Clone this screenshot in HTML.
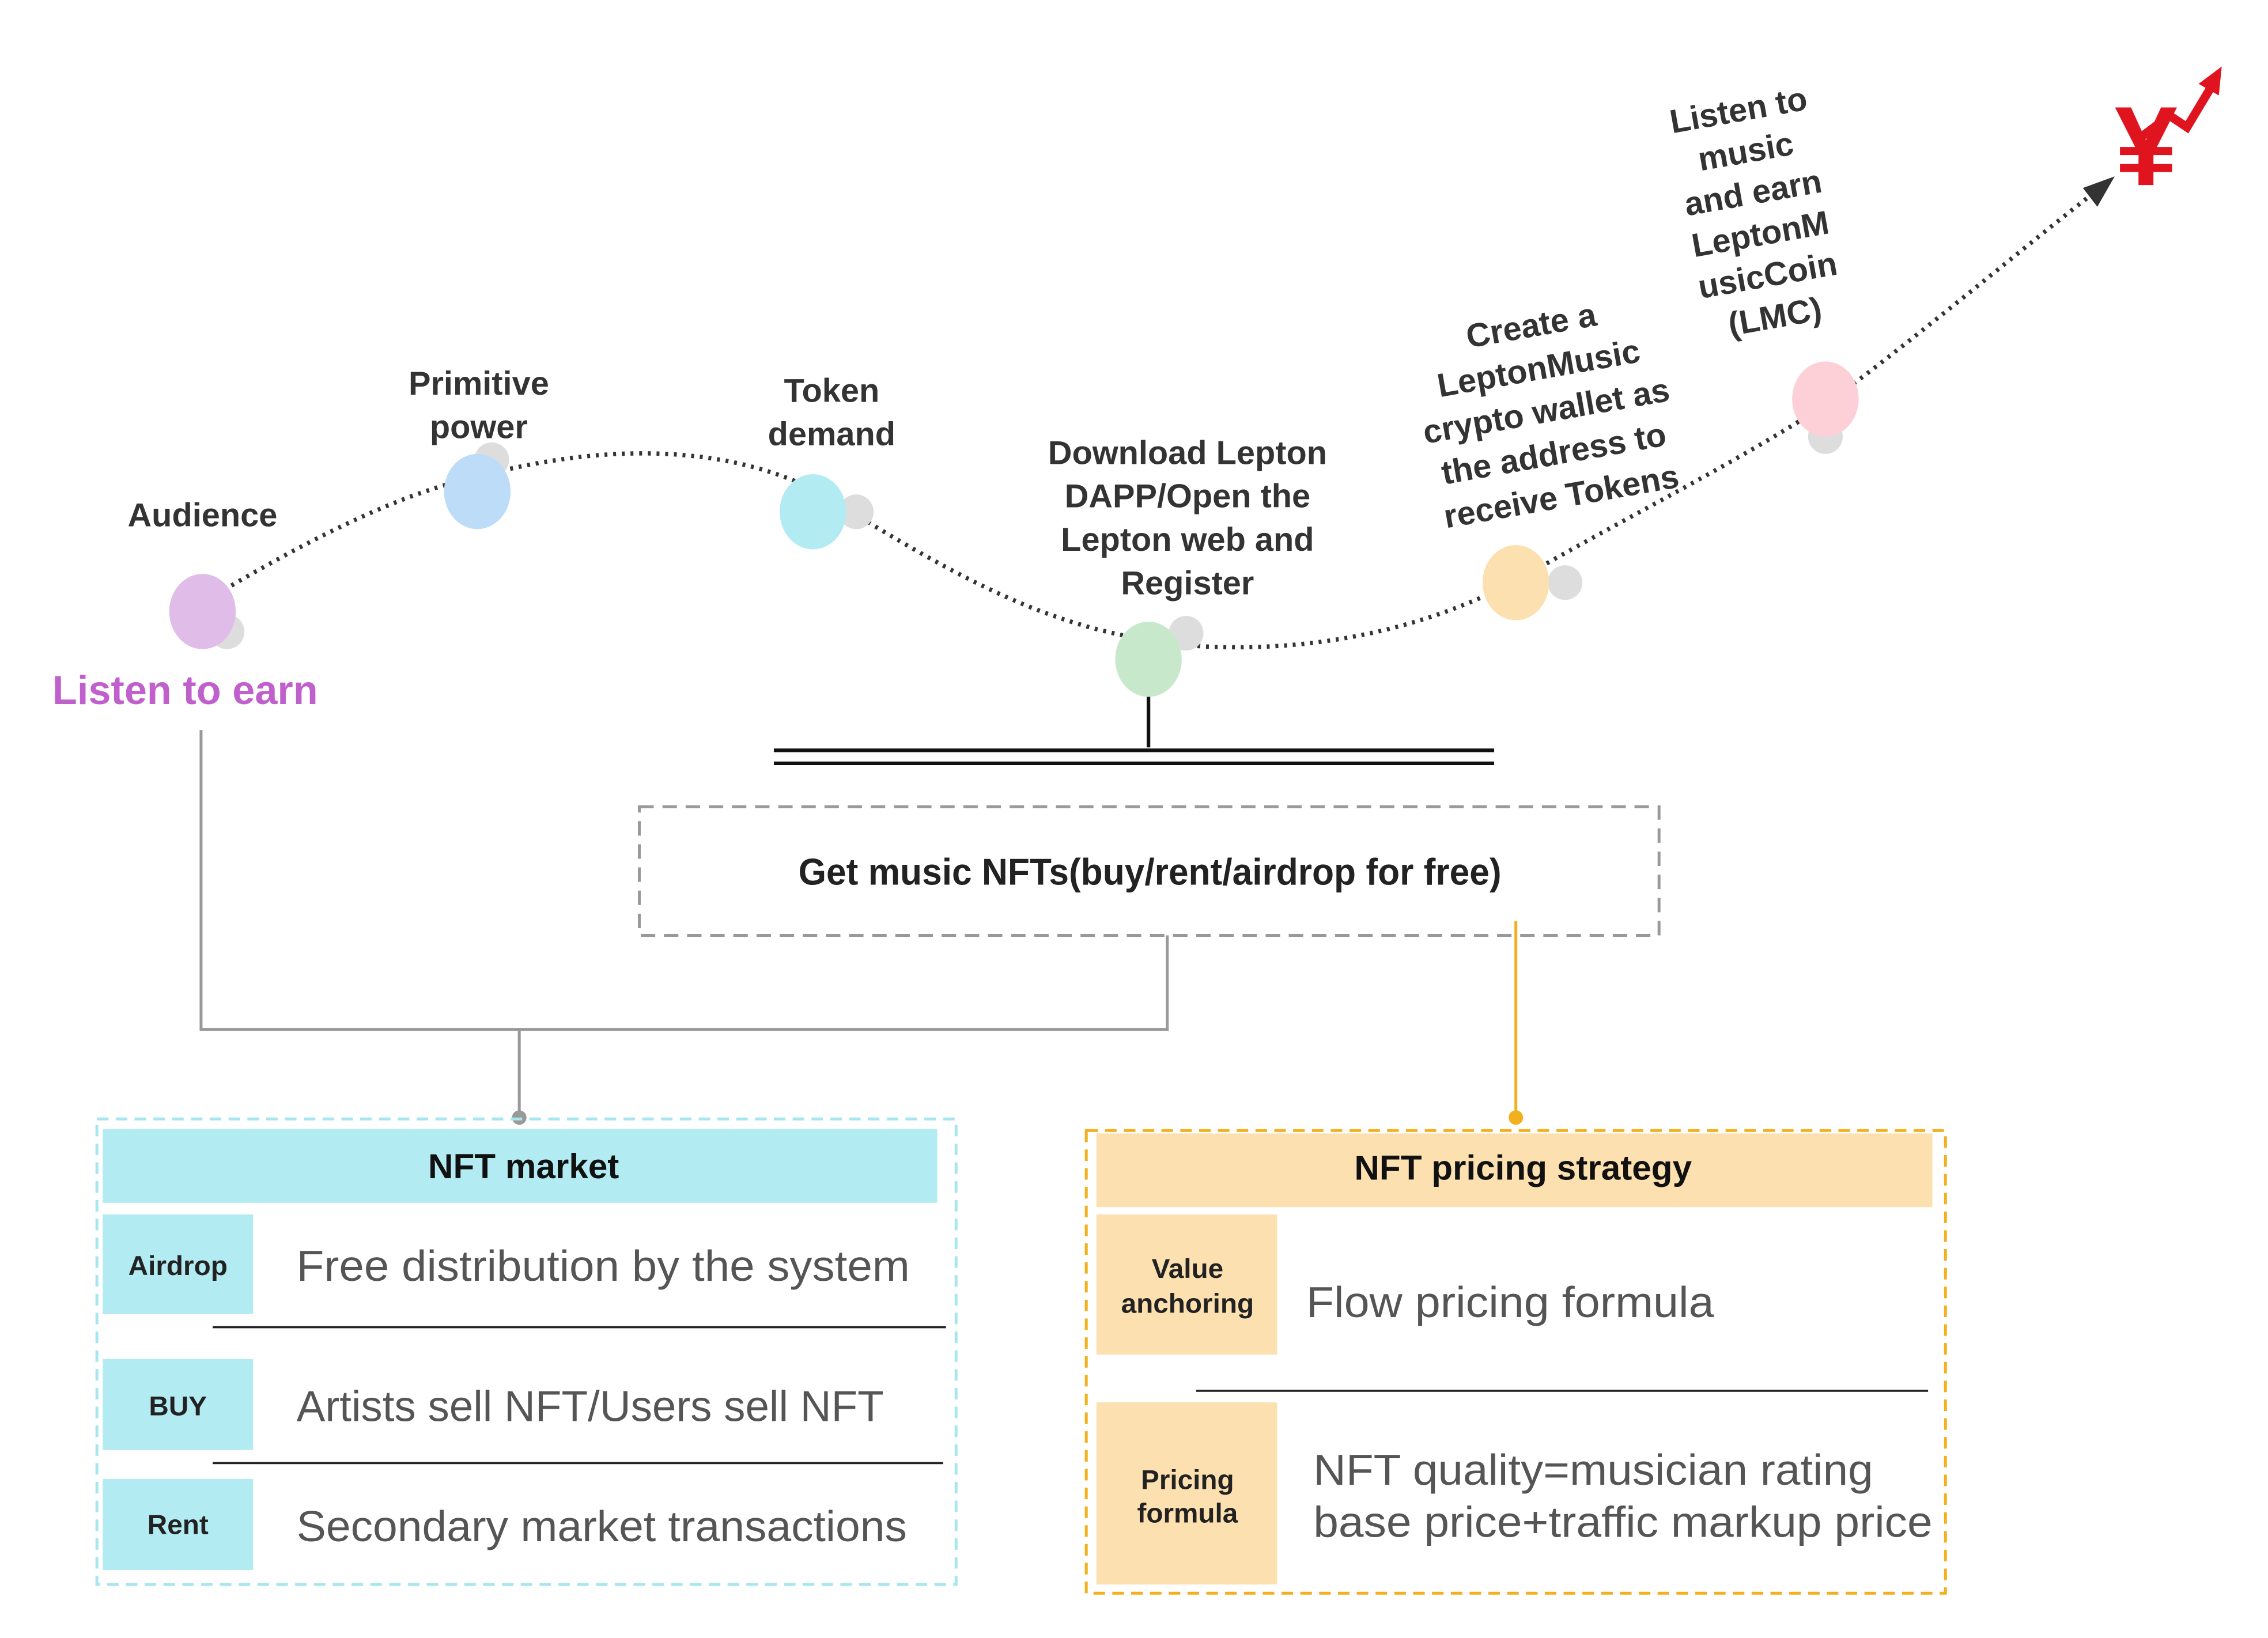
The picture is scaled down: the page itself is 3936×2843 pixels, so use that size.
<!DOCTYPE html>
<html><head><meta charset="utf-8"><style>
html,body{margin:0;padding:0;background:#fff;}
svg{display:block}
text{font-family:"Liberation Sans","DejaVu Sans",sans-serif}
</style></head><body>
<svg width="3936" height="2843" viewBox="0 0 1568 1133" preserveAspectRatio="none" xmlns="http://www.w3.org/2000/svg">
<rect width="1568" height="1133" fill="#fff"/>
<path d="M160,405 C220,370 280,340 330,330 C420,305 520,305 590,355 C680,410 740,440 830,447 C920,452 1000,430 1060,395 C1130,355 1200,320 1262,280 C1330,230 1400,170 1452,130" fill="none" stroke="#333" stroke-width="3" stroke-dasharray="2,4"/>
<polygon points="1462,122 1440,130 1450,143" fill="#333"/>
<g fill="#e0141e">
<text x="1462" y="128" font-size="78" font-weight="bold" fill="#e0141e">¥</text>
<polyline points="1480,95 1500,80 1512,88 1530,58" fill="none" stroke="#e0141e" stroke-width="6"/>
<polygon points="1536,46 1520,58 1534,66"/>
</g>
<circle cx="157" cy="437" r="12" fill="#ddd"/><ellipse cx="140" cy="423" rx="23" ry="26" fill="#e0bce8"/>
<circle cx="340" cy="318" r="12" fill="#ddd"/><ellipse cx="330" cy="340" rx="23" ry="26" fill="#bcdcf8"/>
<circle cx="592" cy="354" r="12" fill="#ddd"/><ellipse cx="562" cy="354" rx="23" ry="26" fill="#b2ecf2"/>
<circle cx="820" cy="438" r="12" fill="#ddd"/><ellipse cx="794" cy="456" rx="23" ry="26" fill="#c8e8cc"/>
<circle cx="1082" cy="403" r="12" fill="#ddd"/><ellipse cx="1048" cy="403" rx="23" ry="26" fill="#fde0b0"/>
<circle cx="1262" cy="302" r="12" fill="#ddd"/><ellipse cx="1262" cy="276" rx="23" ry="26" fill="#fdd0d8"/>
<g font-size="23" font-weight="bold" fill="#333" text-anchor="middle">
<text x="140" y="364">Audience</text>
<text x="331" y="273">Primitive</text><text x="331" y="303">power</text>
<text x="575" y="278">Token</text><text x="575" y="308">demand</text>
<text x="821" y="321">Download Lepton</text><text x="821" y="351">DAPP/Open the</text><text x="821" y="381">Lepton web and</text><text x="821" y="411">Register</text>
<g transform="rotate(-10 1070 290)">
<text x="1070" y="232">Create a</text><text x="1070" y="262">LeptonMusic</text><text x="1070" y="292">crypto wallet as</text><text x="1070" y="322">the address to</text><text x="1070" y="352">receive Tokens</text>
</g>
<g transform="rotate(-10 1220 150)">
<text x="1215" y="82">Listen to</text><text x="1215" y="111">music</text><text x="1215" y="140">and earn</text><text x="1215" y="169">LeptonM</text><text x="1215" y="198">usicCoin</text><text x="1215" y="227">(LMC)</text>
</g>
</g>
<text x="128" y="487" font-size="28" font-weight="bold" fill="#c060cc" text-anchor="middle">Listen to earn</text>
<line x1="794" y1="482" x2="794" y2="517" stroke="#111" stroke-width="2.5"/>
<line x1="535" y1="519" x2="1033" y2="519" stroke="#111" stroke-width="2.5"/>
<line x1="535" y1="528" x2="1033" y2="528" stroke="#111" stroke-width="2.5"/>
<rect x="442" y="558" width="705" height="89" fill="none" stroke="#999" stroke-width="2" stroke-dasharray="10,6"/>
<text x="795" y="612" font-size="26" font-weight="bold" fill="#222" text-anchor="middle" textLength="486" lengthAdjust="spacingAndGlyphs">Get music NFTs(buy/rent/airdrop for free)</text>
<polyline points="139,505 139,712 807,712 807,647" fill="none" stroke="#999" stroke-width="2"/>
<line x1="359" y1="712" x2="359" y2="772" stroke="#999" stroke-width="2"/>
<circle cx="359" cy="773" r="5" fill="#999"/>
<line x1="1048" y1="637" x2="1048" y2="772" stroke="#f2b01e" stroke-width="2"/>
<circle cx="1048" cy="773" r="5" fill="#f2b01e"/>
<rect x="67" y="774" width="594" height="322" fill="none" stroke="#a8e6ee" stroke-width="2" stroke-dasharray="8,5"/>
<rect x="71" y="781" width="577" height="51" fill="#b2ebf2"/>
<text x="362" y="815" font-size="24" font-weight="bold" fill="#111" text-anchor="middle">NFT market</text>
<rect x="71" y="840" width="104" height="69" fill="#b2ebf2"/>
<rect x="71" y="940" width="104" height="63" fill="#b2ebf2"/>
<rect x="71" y="1023" width="104" height="63" fill="#b2ebf2"/>
<g font-size="19" font-weight="bold" fill="#222" text-anchor="middle">
<text x="123" y="882">Airdrop</text><text x="123" y="979">BUY</text><text x="123" y="1061">Rent</text>
</g>
<g font-size="30" fill="#555">
<text x="205" y="886" textLength="424" lengthAdjust="spacingAndGlyphs">Free distribution by the system</text>
<text x="205" y="983" textLength="406" lengthAdjust="spacingAndGlyphs">Artists sell NFT/Users sell NFT</text>
<text x="205" y="1066" textLength="422" lengthAdjust="spacingAndGlyphs">Secondary market transactions</text>
</g>
<line x1="147" y1="918" x2="654" y2="918" stroke="#222" stroke-width="1.5"/>
<line x1="147" y1="1012" x2="652" y2="1012" stroke="#222" stroke-width="1.5"/>
<rect x="751" y="782" width="594" height="320" fill="none" stroke="#f2b01e" stroke-width="2" stroke-dasharray="8,5"/>
<rect x="758" y="784" width="578" height="51" fill="#fde0b0"/>
<text x="1053" y="816" font-size="24" font-weight="bold" fill="#111" text-anchor="middle">NFT pricing strategy</text>
<rect x="758" y="840" width="125" height="97" fill="#fde0b0"/>
<rect x="758" y="970" width="125" height="126" fill="#fde0b0"/>
<g font-size="19" font-weight="bold" fill="#222" text-anchor="middle">
<text x="821" y="884">Value</text><text x="821" y="908">anchoring</text>
<text x="821" y="1030">Pricing</text><text x="821" y="1053">formula</text>
</g>
<g font-size="30" fill="#555">
<text x="903" y="911" textLength="282" lengthAdjust="spacingAndGlyphs">Flow pricing formula</text>
<text x="908" y="1027" textLength="387" lengthAdjust="spacingAndGlyphs">NFT quality=musician rating</text>
<text x="908" y="1063" textLength="428" lengthAdjust="spacingAndGlyphs">base price+traffic markup price</text>
</g>
<line x1="827" y1="962" x2="1333" y2="962" stroke="#222" stroke-width="1.5"/>
</svg>
</body></html>
